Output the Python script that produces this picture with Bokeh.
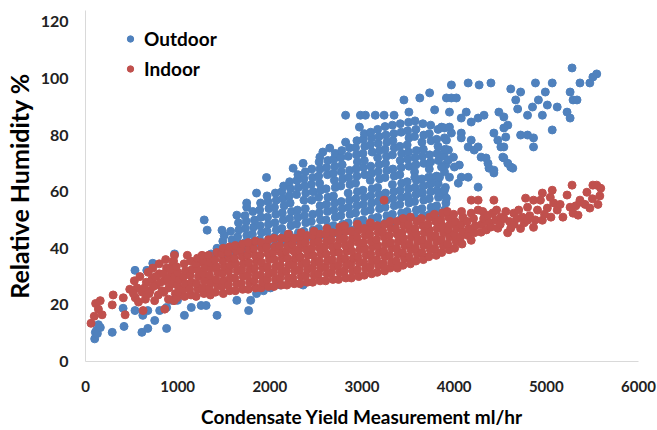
from bokeh.plotting import figure
from bokeh.models import FixedTicker, Legend, LegendItem
from bokeh.embed import file_html
from bokeh.resources import INLINE

# ---------------- data ----------------
x_ticks = [0, 1000, 2000, 3000, 4000, 5000, 6000]
y_ticks = [0, 20, 40, 60, 80, 100, 120]

# Outdoor (blue) – points visible below / left of the indoor band
outdoor_left = [
    (100, 8), (107, 10.3), (120, 11), (129, 9.9), (140, 13), (161, 12), (290, 10.3),
    (418, 12.4), (408, 18.8), (537, 18), (622, 16.3), (676, 18), (751, 14.5),
    (612, 10.3), (676, 11.7), (880, 11.7), (805, 18), (880, 19.1), (934, 21.6),
    (998, 21.6), (1073, 16.3), (1148, 19.1), (1255, 19.8), (1309, 19.8),
    (1427, 16.3), (1642, 21.6), (1770, 18), (1792, 21.6), (1856, 24), (1931, 25),
    (2007, 26), (2114, 27), (2361, 27), (537, 32.2), (665, 32.2), (730, 34.7),
    (966, 38), (1363, 38), (1427, 40), (1288, 50), (1320, 46.4), (1481, 46.4),
    (1642, 51.7), (1749, 54.5), (1749, 56), (1856, 59.5), (1964, 65),
    (2253, 68.3), (2361, 70), (2543, 72.2), (2575, 74), (2650, 75.4),
    (2715, 72.2), (2822, 77.5), (2822, 87), (2972, 82.8), (2983, 87),
]

# Outdoor – dense central cloud
outdoor_core = [
    (1495, 37.5), (1510, 40), (1490, 42.5), (1505, 44.5),
    (1585, 38), (1570, 40.5), (1590, 43), (1575, 46),
    (1655, 39), (1670, 41.5), (1650, 44), (1665, 46.5), (1660, 49),
    (1745, 39.5), (1730, 42), (1750, 44.5), (1735, 47), (1745, 49.5), (1730, 51.5),
    (1815, 40), (1830, 42.5), (1810, 45), (1825, 47.5), (1835, 50), (1815, 53),
    (1905, 40.5), (1890, 43), (1910, 45.5), (1895, 48), (1905, 51), (1890, 53.5), (1900, 56),
    (1975, 41), (1990, 43.5), (1970, 46), (1985, 48.5), (1975, 51), (1990, 54), (1980, 56.5), (1970, 58.5),
    (2065, 41.5), (2050, 44), (2070, 46.5), (2055, 49), (2065, 52), (2050, 54.5), (2070, 57), (2060, 59.5),
    (2135, 42), (2150, 44.5), (2130, 47), (2145, 50), (2135, 52.5), (2155, 55), (2140, 57.5), (2130, 60), (2150, 62),
    (2225, 42.5), (2210, 45), (2230, 48), (2215, 50.5), (2235, 53), (2220, 56), (2210, 58.5), (2225, 61), (2215, 63.5),
    (2295, 43), (2310, 45.5), (2290, 48.5), (2305, 51), (2300, 53.5), (2290, 59), (2310, 61.5), (2295, 64), (2305, 66),
    (2385, 43.5), (2370, 46), (2390, 49), (2375, 51.5), (2385, 54), (2370, 57), (2390, 59.5), (2380, 62), (2370, 64.5), (2385, 67),
    (2455, 44), (2470, 46.5), (2450, 49.5), (2465, 52), (2455, 57), (2470, 60), (2450, 62.5), (2465, 65), (2455, 68),
    (2545, 44.5), (2530, 47), (2550, 50), (2535, 52.5), (2545, 55), (2530, 58), (2550, 60.5), (2540, 63), (2530, 65.5), (2545, 68), (2535, 70.5),
    (2615, 45), (2630, 47.5), (2610, 50), (2625, 53), (2615, 55.5), (2630, 58), (2610, 61), (2625, 66), (2615, 68.5), (2630, 71),
    (2705, 45.5), (2690, 48), (2710, 51), (2695, 53.5), (2705, 56), (2690, 58.5), (2710, 61.5), (2700, 64), (2690, 66.5), (2705, 69), (2695, 71.5), (2710, 73.5),
    (2775, 46), (2790, 48.5), (2770, 51.5), (2785, 54), (2775, 56.5), (2770, 62), (2790, 64.5), (2775, 67), (2785, 69.5), (2770, 72), (2780, 74.5),
    (2865, 46.5), (2850, 49), (2870, 52), (2855, 54.5), (2865, 57), (2850, 59.5), (2870, 62.5), (2855, 65), (2865, 67.5), (2850, 72.5), (2865, 75.5),
    (2935, 47), (2950, 49.5), (2930, 52.5), (2945, 55), (2935, 57.5), (2950, 60), (2930, 63), (2945, 65.5), (2935, 68), (2950, 70.5), (2940, 73), (2930, 75.5), (2945, 78),
    (3025, 47.5), (3010, 50), (3030, 53), (3015, 55.5), (3025, 58), (3010, 60.5), (3030, 66), (3015, 68.5), (3025, 71), (3010, 73.5), (3030, 76), (3015, 78.5), (3025, 80.5),
    (3095, 48), (3110, 50.5), (3090, 53.5), (3105, 56), (3095, 58.5), (3110, 61), (3090, 64), (3105, 66.5), (3095, 69), (3110, 74), (3090, 76.5), (3105, 79), (3095, 81),
    (3185, 48.5), (3170, 51), (3190, 54), (3175, 56.5), (3185, 59), (3170, 61.5), (3190, 64.5), (3175, 67), (3185, 69.5), (3170, 72), (3190, 74.5), (3175, 77), (3185, 79.5), (3170, 82),
    (3255, 49), (3270, 51.5), (3250, 54.5), (3265, 57), (3255, 59.5), (3250, 65), (3270, 67.5), (3255, 70), (3265, 72.5), (3250, 75), (3270, 77.5), (3260, 80), (3250, 83),
    (3345, 49.5), (3330, 52), (3350, 55), (3335, 57.5), (3345, 60), (3330, 62.5), (3350, 65.5), (3335, 68), (3330, 73), (3350, 75.5), (3335, 78), (3345, 80.5), (3330, 83.5),
    (3415, 50), (3430, 52.5), (3410, 55.5), (3425, 58), (3415, 60.5), (3430, 63), (3410, 66), (3425, 68.5), (3415, 71), (3430, 73.5), (3410, 76), (3425, 81), (3415, 84),
    (3505, 50.5), (3490, 53), (3510, 56), (3495, 58.5), (3505, 61), (3490, 63.5), (3510, 69), (3495, 71.5), (3505, 74), (3490, 76.5), (3510, 79), (3495, 81.5), (3505, 84.5),
    (3575, 51), (3590, 53.5), (3570, 56.5), (3585, 59), (3575, 61.5), (3590, 64), (3570, 67), (3585, 69.5), (3575, 72), (3590, 74.5), (3570, 79.5), (3585, 82), (3575, 85),
    (3665, 51.5), (3650, 54), (3670, 57), (3655, 59.5), (3665, 62), (3650, 64.5), (3670, 70), (3655, 72.5), (3665, 75), (3650, 77.5), (3670, 80), (3660, 84),
    (3735, 52), (3750, 54.5), (3730, 57.5), (3745, 60), (3735, 62.5), (3750, 65), (3730, 68), (3745, 70.5), (3735, 73), (3750, 78), (3730, 80.5), (3745, 83.5),
    (3825, 52.5), (3810, 55), (3830, 58), (3815, 60.5), (3825, 63), (3810, 65.5), (3830, 71), (3815, 73.5), (3825, 76), (3810, 78.5), (3825, 82),
    (3895, 53.5), (3910, 56), (3890, 59), (3905, 61.5), (3895, 67), (3910, 69.5), (3890, 72.5), (3905, 75), (3895, 79),
]

# Outdoor – sparse upper-right region
outdoor_upper = [
    (3037, 87), (3144, 87), (3240, 87), (3348, 87), (3455, 92.4), (3509, 88.1),
    (3627, 93.1), (3734, 94.9), (3788, 88.9), (3916, 93.1), (3970, 93.1), (4024, 93.1),
    (3949, 88.1), (3970, 97.7), (4131, 88.1), (4152, 98.4), (4271, 97.7), (4399, 98.4),
    (4324, 87), (4485, 88.1), (4539, 86.4), (4582, 83.5), (4560, 79.3), (4539, 75.8),
    (4539, 71.9), (4614, 68.7), (4431, 66.6), (4378, 68.3), (4346, 71.9), (4260, 75.8),
    (4185, 78.2), (4077, 80.7), (3863, 82.8), (3916, 78.2), (3938, 74.7), (3992, 72.2),
    (4056, 69.4), (4260, 61.6), (3573, 65.1), (3723, 65.1), (3841, 65.1), (3949, 65.1),
    (3627, 59.8), (3831, 59.5), (3916, 57.7), (3509, 57), (3970, 80.7), (4077, 79),
    (4152, 75.8), (4217, 74.7), (4292, 72.2), (4367, 70), (4431, 67.6), (4431, 80.7),
    (4474, 78.2), (4507, 75.8), (4528, 72.2), (4582, 70), (4636, 68.3), (3895, 74.7),
    (3938, 71.2), (4002, 68.7), (4077, 65.1), (3863, 68.7), (3756, 63), (3895, 60.5),
    (4045, 63), (4152, 65.1), (4077, 86), (4185, 84.6), (4260, 86), (3895, 82.5),
    (3949, 82.8), (4721, 80), (4539, 82.5), (4614, 96.3), (4721, 95.2), (4668, 92.4),
    (4689, 89.2), (4796, 87), (4796, 80), (4861, 79), (4861, 75.8), (4850, 89.9),
    (4882, 98.4), (4914, 92.4), (4957, 87), (4989, 95.2), (5011, 90.6), (5064, 98.4),
    (5064, 81.8), (5118, 89.9), (5225, 88.1), (5258, 86), (5258, 95.2), (5279, 103.7),
    (5290, 92.4), (5333, 92.4), (5365, 98.4), (5472, 98.4), (5505, 100.5), (5547, 101.6),
]

# Indoor (red) – sparse left part
indoor_left = [
    (60, 13.5), (95, 16), (110, 20.5), (140, 18.5), (160, 21.5), (180, 16.5),
    (290, 20), (300, 23.5), (410, 22.5), (430, 16.5), (480, 25.5), (540, 22.5),
    (560, 26), (615, 24.5), (625, 18), (660, 28), (700, 25), (720, 29), (750, 21.5),
    (770, 27), (800, 31), (830, 25), (860, 28.5), (860, 18.5), (880, 33), (905, 26),
    (930, 30.5), (945, 34), (965, 37.5), (975, 24), (1105, 37.5), (1235, 35),
    (520, 24), (530, 28.5), (575, 21), (590, 30), (640, 26), (650, 22), (680, 31.5),
    (690, 24), (730, 33), (735, 26.5), (760, 30), (790, 23.5), (800, 34.5), (815, 28),
    (845, 31), (850, 24.5), (870, 36), (890, 29), (900, 22), (920, 32.5), (940, 27.5),
    (955, 35.5), (960, 21.5), (970, 30),
]

# Indoor – dense band
indoor_band = [
    (990, 22.5), (1010, 24.5), (995, 27), (1015, 29), (1000, 31.5), (985, 33.5),
    (1075, 23), (1060, 25.5), (1080, 27.5), (1065, 30), (1085, 32), (1070, 34.5),
    (1145, 23.5), (1130, 25.5), (1150, 28), (1135, 30.5), (1155, 32.5), (1140, 35.5),
    (1200, 23), (1220, 25.5), (1205, 27.5), (1225, 30), (1210, 32.5), (1195, 34.5), (1215, 36.5),
    (1285, 24), (1270, 26), (1290, 28.5), (1275, 31), (1295, 33), (1280, 35.5), (1265, 37.5),
    (1355, 23.5), (1340, 26), (1360, 28), (1345, 30.5), (1365, 33), (1350, 35), (1335, 37.5),
    (1410, 24.5), (1430, 27), (1415, 29), (1435, 31.5), (1420, 33.5), (1405, 36), (1425, 38.5),
    (1495, 24), (1480, 26.5), (1500, 28.5), (1485, 31), (1505, 33.5), (1490, 35.5), (1475, 38), (1495, 40),
    (1565, 25), (1550, 27), (1570, 29.5), (1555, 32), (1575, 34), (1560, 36.5), (1545, 38.5), (1565, 40.5),
    (1625, 25), (1640, 27.5), (1620, 29.5), (1645, 32), (1630, 34.5), (1615, 36.5), (1635, 39), (1625, 41),
    (1705, 25.5), (1690, 27.5), (1710, 30), (1695, 32.5), (1715, 34.5), (1700, 37), (1685, 39.5), (1705, 41.5),
    (1765, 25.5), (1780, 28), (1760, 30.5), (1785, 32.5), (1770, 35), (1755, 37.5), (1775, 39.5), (1765, 42),
    (1845, 26), (1830, 28.5), (1850, 30.5), (1835, 33), (1855, 35.5), (1840, 37.5), (1825, 40), (1845, 42.5),
    (1905, 26), (1920, 28), (1900, 30.5), (1925, 33), (1910, 35), (1895, 37.5), (1915, 40), (1905, 42),
    (1985, 26.5), (1970, 29), (1990, 31), (1975, 33.5), (1995, 36), (1980, 38), (1965, 40.5), (1985, 43),
    (2045, 26.5), (2060, 29), (2040, 31.5), (2065, 33.5), (2050, 36), (2035, 38.5), (2055, 40.5), (2045, 43.5),
    (2125, 27), (2110, 29.5), (2130, 31.5), (2115, 34), (2135, 36.5), (2120, 38.5), (2105, 41), (2125, 43.5),
    (2185, 27), (2200, 29.5), (2180, 32), (2205, 34), (2190, 36.5), (2175, 39), (2195, 41), (2185, 43.5), (2200, 45),
    (2265, 27.5), (2250, 29.5), (2270, 32), (2255, 34.5), (2275, 36.5), (2260, 39), (2245, 41.5), (2265, 43.5),
    (2325, 27.5), (2340, 30), (2320, 32.5), (2345, 34.5), (2330, 37), (2315, 39.5), (2335, 41.5), (2325, 44), (2340, 45.5),
    (2405, 28), (2390, 30.5), (2410, 32.5), (2395, 35), (2415, 37.5), (2400, 39.5), (2385, 42), (2405, 44.5),
    (2465, 28), (2480, 30.5), (2460, 33), (2485, 35), (2470, 37.5), (2455, 40), (2475, 42), (2465, 44.5), (2480, 46),
    (2545, 28.5), (2530, 31), (2550, 33), (2535, 35.5), (2555, 38), (2540, 40), (2525, 42.5), (2545, 45),
    (2605, 28.5), (2620, 31), (2600, 33.5), (2625, 35.5), (2610, 38), (2595, 40.5), (2615, 42.5), (2605, 45), (2620, 47),
    (2685, 29), (2670, 31.5), (2690, 33.5), (2675, 36), (2695, 38.5), (2680, 40.5), (2665, 43), (2685, 45.5),
    (2745, 29), (2760, 31.5), (2740, 34), (2765, 36), (2750, 38.5), (2735, 41), (2755, 43), (2745, 45.5), (2760, 47.5),
    (2825, 29.5), (2810, 32), (2830, 34), (2815, 36.5), (2835, 39), (2820, 41), (2805, 43.5), (2825, 46), (2810, 48),
    (2885, 29.5), (2900, 32), (2880, 34.5), (2905, 36.5), (2890, 39), (2875, 41.5), (2895, 43.5), (2885, 46),
    (2965, 30), (2950, 32.5), (2970, 35), (2955, 37), (2975, 39.5), (2960, 42), (2945, 44), (2965, 46.5), (2950, 48.5),
    (3025, 30.5), (3040, 33), (3020, 35), (3045, 37.5), (3030, 40), (3015, 42), (3035, 44.5), (3025, 47),
    (3105, 31), (3090, 33.5), (3110, 35.5), (3095, 38), (3115, 40.5), (3100, 42.5), (3085, 45), (3105, 47.5), (3090, 49),
    (3165, 31.5), (3180, 34), (3160, 36), (3185, 38.5), (3170, 41), (3155, 43), (3175, 45.5), (3165, 48),
    (3245, 32), (3230, 34.5), (3250, 37), (3235, 39), (3255, 41.5), (3240, 44), (3225, 46), (3245, 48.5),
    (3305, 33), (3320, 35), (3300, 37.5), (3325, 40), (3310, 42), (3295, 44.5), (3315, 47), (3305, 49.5),
    (3385, 33), (3370, 35.5), (3390, 38), (3375, 40), (3395, 42.5), (3380, 45), (3365, 47), (3385, 49.5),
    (3445, 34), (3460, 36.5), (3440, 38.5), (3465, 41), (3450, 43.5), (3435, 45.5), (3455, 48), (3445, 50.5),
    (3525, 34.5), (3510, 37), (3530, 39.5), (3515, 41.5), (3535, 44), (3520, 46.5), (3505, 48.5), (3525, 51),
    (3585, 35.5), (3600, 38), (3580, 40), (3605, 42.5), (3590, 45), (3575, 47), (3595, 49.5),
    (3665, 36), (3650, 38.5), (3670, 41), (3655, 43), (3675, 45.5), (3660, 48), (3645, 50.5),
    (3725, 37), (3740, 39.5), (3720, 41.5), (3745, 44), (3730, 46.5), (3715, 48.5), (3735, 51),
    (3805, 37.5), (3790, 40), (3810, 42.5), (3795, 44.5), (3815, 47), (3800, 49.5), (3785, 52),
    (3865, 38.5), (3880, 41), (3860, 43), (3885, 45.5), (3870, 48), (3855, 50), (3875, 52.5),
    (3945, 39.5), (3930, 41.5), (3950, 44), (3935, 46.5), (3955, 48.5), (3940, 51), (3925, 53),
    (4005, 40), (4020, 42.5), (4000, 45), (4025, 47), (4010, 49.5), (3995, 52),
    (4085, 41.5), (4070, 44), (4090, 46), (4075, 48.5), (4095, 51), (4080, 53),
]

# Indoor – sparser right part
indoor_right = [
    (3240, 57), (4150, 44.5), (4160, 47), (4140, 49.5), (4185, 52.4), (4185, 42.8),
    (4220, 45.5), (4230, 48), (4210, 50.5), (4260, 53.5), (4292, 45.7), (4300, 48.5),
    (4320, 50.5), (4310, 53), (4350, 46.5), (4367, 51.7), (4380, 49), (4400, 47.5),
    (4420, 52.5), (4450, 50), (4460, 53.5), (4474, 47.1), (4500, 48.5), (4507, 51),
    (4540, 50.5), (4560, 53), (4580, 45.5), (4600, 49.5), (4614, 47.1), (4646, 52.4),
    (4650, 48.5), (4680, 50.5), (4700, 53.5), (4720, 47), (4740, 51), (4760, 49),
    (4796, 49.9), (4796, 54.5), (4820, 51.5), (4861, 47.4), (4880, 50), (4904, 53.5),
    (4957, 49.9), (4980, 52), (5011, 54.2), (5050, 51), (5080, 56), (5118, 53.5),
    (5150, 55.5), (5180, 51), (5258, 54.5), (5290, 52.4), (5320, 55), (5344, 51.7),
    (5365, 56.3), (5420, 55.5), (5472, 54.2), (4185, 57), (4260, 57), (4431, 57),
    (4775, 57.7), (4861, 57), (4936, 57), (4957, 59.5), (5043, 58), (5064, 60.5),
    (5225, 58.8), (5279, 62.3), (5365, 57), (5440, 59.8), (5505, 62.3), (5547, 62.3),
    (5500, 57.5), (5580, 58.5), (5590, 61.2), (5560, 55.5),
]

outdoor = outdoor_left + outdoor_core + outdoor_upper
indoor = indoor_left + indoor_band + indoor_right

BLUE = "#4F81BD"
RED = "#C0504D"
FONT = "Lato"

p = figure(width=657, height=430, x_range=(0, 6000), y_range=(0, 124),
           output_backend="svg", toolbar_location=None,
           min_border_left=79, min_border_right=19, min_border_top=10, min_border_bottom=69)
p.outline_line_color = None
p.xgrid.visible = False
p.ygrid.visible = False

r_out = p.scatter([pt[0] for pt in outdoor], [pt[1] for pt in outdoor],
                  size=8, fill_color=BLUE, line_color=BLUE)
r_in = p.scatter([pt[0] for pt in indoor], [pt[1] for pt in indoor],
                 size=8, fill_color=RED, line_color=RED)

for ax in (p.xaxis[0], p.yaxis[0]):
    ax.axis_line_color = "#D9D9D9"
    ax.axis_line_width = 1
    ax.major_tick_line_color = None
    ax.minor_tick_line_color = None
    ax.major_label_text_font = FONT
    ax.major_label_text_font_style = "bold"
    ax.major_label_text_color = "#222222"
    ax.axis_label_text_font = FONT
    ax.axis_label_text_font_style = "bold"
    ax.axis_label_text_color = "#000000"

p.xaxis.ticker = FixedTicker(ticks=x_ticks)
p.yaxis.ticker = FixedTicker(ticks=y_ticks)
p.xaxis.major_label_text_font_size = "15px"
p.yaxis.major_label_text_font_size = "16px"
p.xaxis.axis_label = "Condensate Yield Measurement ml/hr"
p.yaxis.axis_label = "Relative Humidity %"
p.xaxis.axis_label_text_font_size = "19px"
p.yaxis.axis_label_text_font_size = "25px"
p.xaxis.major_label_standoff = 13
p.xaxis.axis_label_standoff = 10
p.yaxis.major_label_standoff = 11
p.yaxis.axis_label_standoff = 4

legend = Legend(items=[LegendItem(label="Outdoor", renderers=[r_out]),
                       LegendItem(label="Indoor", renderers=[r_in])],
                location=(37, 280))
legend.label_text_font = FONT
legend.label_text_font_style = "bold"
legend.label_text_font_size = "19px"
legend.label_text_color = "#000000"
legend.glyph_width = 16
legend.glyph_height = 25
legend.label_height = 25
legend.label_standoff = 6
legend.spacing = 5
legend.padding = 0
legend.margin = 0
legend.border_line_alpha = 0
legend.background_fill_alpha = 0
p.add_layout(legend, "center")

open("out.html", "w").write(file_html(p, INLINE))
